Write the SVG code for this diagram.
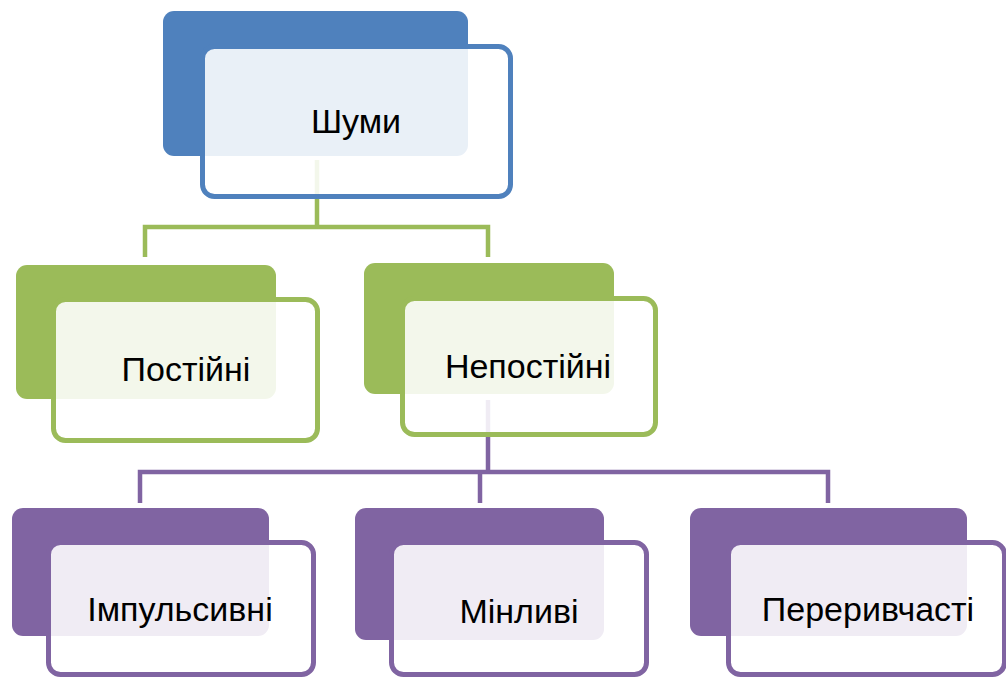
<svg xmlns="http://www.w3.org/2000/svg" width="1006" height="677" viewBox="0 0 1006 677">
<style>
.lbl{font-family:'Liberation Sans',Arial,sans-serif;font-size:34px;fill:#000;text-anchor:middle}
.fb{fill:#4F81BD}.fg{fill:#9BBB59}.fp{fill:#8064A2}
.ob{fill:#fff;fill-opacity:0.88;stroke:#4F81BD;stroke-width:5}
.og{fill:#fff;fill-opacity:0.88;stroke:#9BBB59;stroke-width:5}
.op{fill:#fff;fill-opacity:0.88;stroke:#8064A2;stroke-width:5}
.cg{fill:none;stroke:#9BBB59;stroke-width:4.5}
.cp{fill:none;stroke:#8064A2;stroke-width:4.5}
</style>
<rect width="1006" height="677" fill="#fff"/>
<g id="connectors">
<path class="cg" d="M317,160 V227 M145,257 V227 H488 V257"/>
<path class="cp" d="M488,400 V472 M140,503 V472 H828 V503 M480,472 V503"/>
</g>
<g id="node-shumy">
<rect class="fb" x="163" y="11" width="305" height="145" rx="11"/>
<rect class="ob" x="202.5" y="46.5" width="308" height="150" rx="12"/>
<text class="lbl" x="356" y="133">Шуми</text>
</g>
<g id="node-postiini">
<rect class="fg" x="16" y="265" width="260" height="134" rx="11"/>
<rect class="og" x="53.5" y="299.5" width="264" height="141" rx="12"/>
<text class="lbl" x="186" y="381">Постійні</text>
</g>
<g id="node-nepostiini">
<rect class="fg" x="364" y="263" width="250" height="131" rx="11"/>
<rect class="og" x="402.5" y="298.5" width="253" height="136" rx="12"/>
<text class="lbl" x="528" y="378">Непостійні</text>
</g>
<g id="node-impulsyvni">
<rect class="fp" x="12" y="508" width="257" height="128" rx="11"/>
<rect class="op" x="48.5" y="542.5" width="265" height="132" rx="12"/>
<text class="lbl" x="180" y="621">Імпульсивні</text>
</g>
<g id="node-minlyvi">
<rect class="fp" x="355" y="508" width="249" height="132" rx="11"/>
<rect class="op" x="391.5" y="542.5" width="255" height="132" rx="12"/>
<text class="lbl" x="519" y="623">Мінливі</text>
</g>
<g id="node-peryvchasti">
<rect class="fp" x="690" y="508" width="277" height="128" rx="11"/>
<rect class="op" x="728.5" y="542.5" width="276" height="132" rx="12"/>
<text class="lbl" x="868" y="621">Переривчасті</text>
</g>
</svg>
